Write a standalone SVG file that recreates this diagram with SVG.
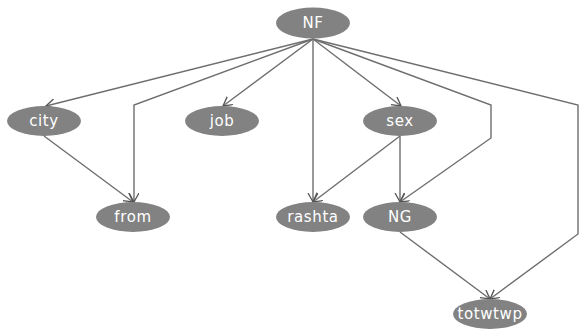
<svg xmlns="http://www.w3.org/2000/svg" width="579" height="334" viewBox="0 0 579 334">
<defs>
<style>
.node ellipse{fill:#828282;}
.node text{fill:#ffffff;font-family:"DejaVu Sans",Verdana,sans-serif;font-size:15px;letter-spacing:0.6px;text-anchor:middle;}
.edge{fill:none;stroke:#6e6e6e;stroke-width:1.4;marker-end:url(#arr);}
</style>
<marker id="arr" markerUnits="userSpaceOnUse" markerWidth="12" markerHeight="12" refX="9" refY="5" orient="auto">
<path d="M0,0 L9,5 L0,10" fill="none" stroke="#555555" stroke-width="1.3"/>
</marker>
</defs>
<rect width="579" height="334" fill="#ffffff"/>
<g id="edges">
<path class="edge" d="M313,39 L46,106"/>
<path class="edge" d="M313,39 L134,105 L134,202"/>
<path class="edge" d="M313,39 L223,106"/>
<path class="edge" d="M313,39 L313,202"/>
<path class="edge" d="M313,39 L401,106"/>
<path class="edge" d="M313,39 L491,105 L491,138 L400,202"/>
<path class="edge" d="M313,39 L578,105 L578,234 L490,299"/>
<path class="edge" d="M44,136 L133,202"/>
<path class="edge" d="M400,136 L313,202"/>
<path class="edge" d="M400,136 L400,202"/>
<path class="edge" d="M400,232 L490,299"/>
</g>
<g id="NF" class="node"><ellipse cx="313" cy="23" rx="37" ry="15.5"/><text x="313" y="28">NF</text></g>
<g id="city" class="node"><ellipse cx="44" cy="121" rx="37" ry="15"/><text x="44" y="126">city</text></g>
<g id="job" class="node"><ellipse cx="222" cy="121" rx="37" ry="15"/><text x="222" y="126">job</text></g>
<g id="sex" class="node"><ellipse cx="400" cy="121" rx="37" ry="15"/><text x="400" y="126">sex</text></g>
<g id="from" class="node"><ellipse cx="133" cy="217" rx="37" ry="15"/><text x="133" y="222">from</text></g>
<g id="rashta" class="node"><ellipse cx="313" cy="217" rx="37" ry="15"/><text x="313" y="222">rashta</text></g>
<g id="NG" class="node"><ellipse cx="400" cy="217" rx="37" ry="15"/><text x="400" y="222">NG</text></g>
<g id="totwtwp" class="node"><ellipse cx="490" cy="314" rx="37" ry="15"/><text x="490" y="319">totwtwp</text></g>
</svg>
